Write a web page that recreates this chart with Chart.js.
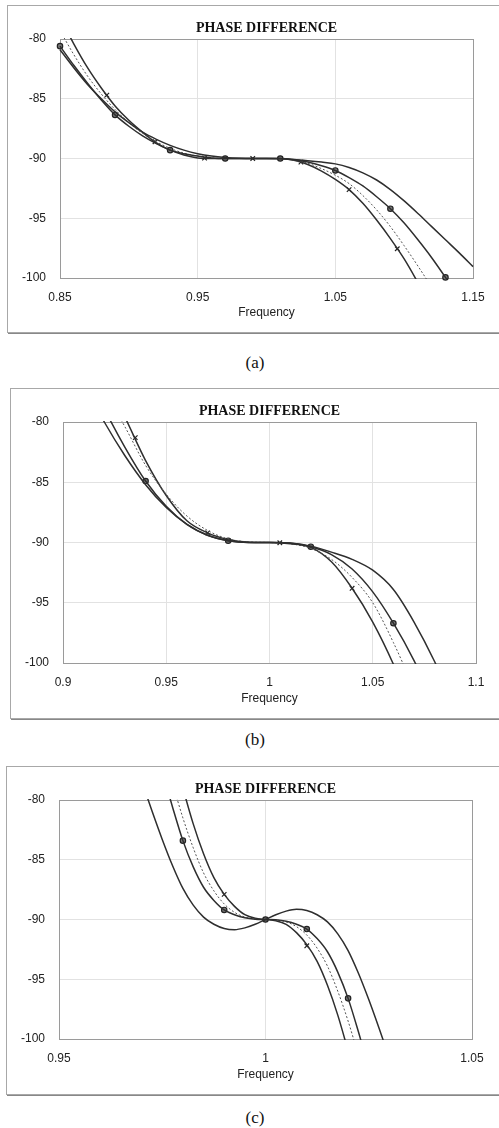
<!DOCTYPE html>
<html>
<head>
<meta charset="utf-8">
<script src="https://cdn.jsdelivr.net/npm/chart.js@4.4.1/dist/chart.umd.min.js"></script>
<style>
  body { margin:0; background:#fff; width:499px; height:1128px; overflow:hidden; position:relative; }
  .box { position:absolute; width:494px; border:1px solid #a8a8a8; box-shadow:1px 1px 0 #888; background:#fff; }
  .box canvas { display:block; }
  .cap { position:absolute; left:0; width:510px; text-align:center; font-family:'Liberation Serif', serif; font-size:17px; color:#111; }
</style>
</head>
<body>
<div class="box" style="left:7px;top:5px;height:326px"><canvas id="cvsA" width="494" height="326"></canvas></div>
<div class="cap" style="top:353px">(a)</div>
<div class="box" style="left:10px;top:388px;height:329px"><canvas id="cvsB" width="494" height="329"></canvas></div>
<div class="cap" style="top:730px">(b)</div>
<div class="box" style="left:6px;top:766px;height:327px"><canvas id="cvsC" width="494" height="327"></canvas></div>
<div class="cap" style="top:1108px">(c)</div>
<script>
// ! datos
const chartTitle = 'PHASE DIFFERENCE';
const yTicks = [-100, -95, -90, -85, -80];

// (a)
const xTicksA = [0.85, 0.95, 1.05, 1.15];
const freqA = [0.85,0.86,0.87,0.88,0.89,0.90,0.91,0.92,0.93,0.94,0.95,0.96,0.97,0.98,0.99,1.00,1.01,1.02,1.03,1.04,1.05,1.06,1.07,1.08,1.09,1.10,1.11,1.12,1.13,1.14,1.15];
const crossA = [-78.2,-80.4,-82.4,-84.1,-85.6,-86.8,-87.8,-88.7,-89.3,-89.7,-89.95,-90,-90,-90,-90,-90,-90,-90.15,-90.5,-91.05,-91.75,-92.6,-93.75,-95.15,-96.7,-98.4,-100.4,-102.6,-105,-107.5,-110];
const dotA = [-79.3,-81.3,-83.1,-84.6,-85.9,-87.0,-87.9,-88.6,-89.15,-89.55,-89.8,-89.95,-90,-90,-90,-90,-90.02,-90.15,-90.4,-90.85,-91.4,-92.1,-93.1,-94.3,-95.7,-97.3,-99.0,-100.8,-102.8,-105,-107.3];
const circA = [-80.6,-82.2,-83.7,-85.1,-86.35,-87.3,-88.1,-88.75,-89.3,-89.6,-89.8,-89.95,-90,-90,-90,-90,-90,-90.1,-90.3,-90.6,-91.0,-91.6,-92.3,-93.2,-94.2,-95.4,-96.8,-98.3,-99.95,-101.7,-103.6];
const wideA = [-80.9,-82.4,-83.8,-85.0,-86.1,-87.0,-87.8,-88.4,-88.9,-89.3,-89.6,-89.8,-89.92,-89.98,-90,-90,-90.02,-90.08,-90.18,-90.3,-90.45,-90.75,-91.2,-91.8,-92.6,-93.55,-94.6,-95.7,-96.8,-97.9,-99.05];
const circMarkFreqA = [0.85, 0.89, 0.93, 0.97, 1.01, 1.05, 1.09, 1.13];
const circMarkA = [-80.6, -86.35, -89.3, -90, -90, -91.0, -94.2, -99.95];
const crossMarkFreqA = [0.884, 0.919, 0.955, 0.99, 1.025, 1.06, 1.095];
const crossMarkA = [-84.7, -88.6, -89.97, -90, -90.3, -92.6, -97.55];

// (b)
const xTicksB = [0.9, 0.95, 1, 1.05, 1.1];
const freqB = [0.90,0.91,0.92,0.93,0.94,0.95,0.96,0.97,0.98,0.99,1.00,1.01,1.02,1.03,1.04,1.05,1.06,1.07,1.08,1.09,1.10];
const crossB = [-68,-72.3,-76.2,-79.6,-83.2,-86.1,-88.2,-89.2,-89.75,-89.97,-90,-90.05,-90.4,-91.6,-93.8,-96.6,-100.1,-104.3,-109,-114,-119];
const dotB = [-70,-74,-77.4,-80.4,-83.6,-86.0,-87.8,-89.0,-89.7,-89.95,-90,-90.1,-90.5,-91.4,-92.9,-95.0,-98.3,-102.2,-106.5,-111,-116];
const circB = [-71.5,-75.3,-78.9,-82.1,-84.9,-87.0,-88.5,-89.4,-89.85,-90,-90,-90.1,-90.35,-91.0,-92.2,-94.1,-96.7,-99.8,-103.5,-108,-112.5];
const wideB = [-73.2,-76.8,-80.0,-82.8,-85.2,-87.1,-88.5,-89.4,-89.85,-90,-90,-90.05,-90.3,-90.8,-91.4,-92.3,-93.9,-96.6,-99.9,-103.8,-108];
const circMarkFreqB = [0.94, 0.98, 1.02, 1.06];
const circMarkB = [-84.9, -89.85, -90.35, -96.7];
const crossMarkFreqB = [0.935, 0.97, 1.005, 1.04];
const crossMarkB = [-81.3, -89.2, -90.02, -93.8];

// (c)
const xTicksC = [0.95, 1, 1.05];
const freqC = [0.965,0.9675,0.97,0.9725,0.975,0.9775,0.98,0.9825,0.985,0.9875,0.99,0.9925,0.995,0.9975,1.0,
               1.0025,1.005,1.0075,1.01,1.0125,1.015,1.0175,1.02,1.0225,1.025,1.0275,1.03,1.0325,1.035];
const crossC = [-59,-62.5,-66,-69.2,-72.5,-75.8,-79.0,-82.0,-84.5,-86.5,-87.9,-88.9,-89.6,-89.9,-90,
                -90.1,-90.4,-91.1,-92.1,-93.5,-95.5,-98.0,-101.0,-104.2,-107.5,-110.8,-114,-117.5,-121];
const dotC = [-63,-66.2,-69.5,-72.5,-75.5,-78.6,-81.5,-84.0,-86.1,-87.6,-88.7,-89.4,-89.8,-89.96,-90,
              -90.04,-90.2,-90.6,-91.3,-92.4,-93.9,-96.0,-98.5,-101.4,-104.5,-107.5,-110.5,-113.8,-117];
const circC = [-65,-68.3,-71.5,-74.6,-77.6,-80.6,-83.4,-85.6,-87.3,-88.4,-89.2,-89.6,-89.85,-89.97,-90,
               -90.03,-90.15,-90.4,-90.8,-91.6,-92.7,-94.4,-96.6,-99.4,-102.4,-105.4,-108.5,-111.7,-115];
const wideC = [-73.0,-75.8,-78.4,-80.9,-83.3,-85.5,-87.4,-88.8,-89.8,-90.4,-90.75,-90.85,-90.7,-90.4,-90,
               -89.6,-89.3,-89.15,-89.25,-89.6,-90.2,-91.2,-92.6,-94.5,-96.7,-99.1,-101.6,-104.2,-107.0];
const circMarkFreqC = [0.98, 0.99, 1.0, 1.01, 1.02];
const circMarkC = [-83.4, -89.2, -90, -90.8, -96.6];
const crossMarkFreqC = [0.99, 1.0, 1.01];
const crossMarkC = [-87.9, -90, -92.2];

const pts = (xs, ys) => xs.map((x, i) => ({ x: x, y: ys[i] }));
const axisFont = { family: "'Liberation Sans', Arial, sans-serif", size: 12 };

// titulo centrado sobre el area del grafico
const tituloPlugin = {
  id: 'titulo',
  afterDraw(chart) {
    const { ctx, chartArea } = chart;
    ctx.save();
    ctx.font = "bold 14px 'Liberation Serif', 'Times New Roman', serif";
    ctx.fillStyle = '#111';
    ctx.textAlign = 'center';
    ctx.textBaseline = 'middle';
    ctx.fillText(chartTitle, (chartArea.left + chartArea.right) / 2, 22.6);
    ctx.restore();
  }
};

function curve(xs, ys, dashed) {
  return {
    data: pts(xs, ys),
    showLine: true,
    borderColor: dashed ? '#555' : '#2e2e2e',
    borderWidth: dashed ? 1 : 1.5,
    borderDash: dashed ? [2, 2] : [],
    pointRadius: 0,
    cubicInterpolationMode: 'monotone',
    clip: 1
  };
}

function marks(xs, ys, style) {
  return {
    data: pts(xs, ys),
    showLine: false,
    pointStyle: style,
    pointRadius: style === 'circle' ? 2.7 : 3.2,
    pointBackgroundColor: '#777',
    pointBorderColor: '#222',
    pointBorderWidth: 1.2,
    clip: false
  };
}

function drawPanel(id, xTicks, freq, wide, circ, dot, cross, cm, cy, xm, xy, plotH) {
  const cvs = document.getElementById(id);
  const edge = '#9a9a9a';
  new Chart(cvs, {
    type: 'scatter',
    data: {
      datasets: [
        curve(freq, wide, false),
        curve(freq, circ, false),
        curve(freq, dot, true),
        curve(freq, cross, false),
        marks(cm, cy, 'circle'),
        marks(xm, xy, 'crossRot')
      ]
    },
    options: {
      responsive: false,
      animation: false,
      devicePixelRatio: 1,
      layout: { padding: { top: 33, left: 0, bottom: 0, right: cvs.width - 465 } },
      plugins: {
        legend: { display: false },
        tooltip: { enabled: false },
        title: { display: false }
      },
      scales: {
        x: {
          type: 'linear',
          min: xTicks[0],
          max: xTicks[xTicks.length - 1],
          afterBuildTicks: s => { s.ticks = xTicks.map(v => ({ value: v })); },
          afterFit: s => { s.height = cvs.height - 33 - plotH; },
          ticks: { font: axisFont, color: '#222', padding: 12, callback: v => String(v) },
          grid: {
            drawTicks: false,
            color: c => (c.tick && c.tick.value === xTicks[xTicks.length - 1]) ? edge : '#e2e2e2'
          },
          border: { color: edge },
          title: { display: true, text: 'Frequency', font: axisFont, color: '#222', padding: { top: 0, bottom: 12 } }
        },
        y: {
          min: -100,
          max: -80,
          afterBuildTicks: s => { s.ticks = yTicks.map(v => ({ value: v })); },
          afterFit: s => { s.width = 52; },
          ticks: { font: axisFont, color: '#222', padding: 14 },
          grid: {
            drawTicks: false,
            color: c => (c.tick && c.tick.value === -80) ? edge : '#e2e2e2'
          },
          border: { color: edge }
        }
      }
    },
    plugins: [tituloPlugin]
  });
}

drawPanel('cvsA', xTicksA, freqA, wideA, circA, dotA, crossA, circMarkFreqA, circMarkA, crossMarkFreqA, crossMarkA, 239);
drawPanel('cvsB', xTicksB, freqB, wideB, circB, dotB, crossB, circMarkFreqB, circMarkB, crossMarkFreqB, crossMarkB, 241);
drawPanel('cvsC', xTicksC, freqC, wideC, circC, dotC, crossC, circMarkFreqC, circMarkC, crossMarkFreqC, crossMarkC, 239);
</script>
</body>
</html>
